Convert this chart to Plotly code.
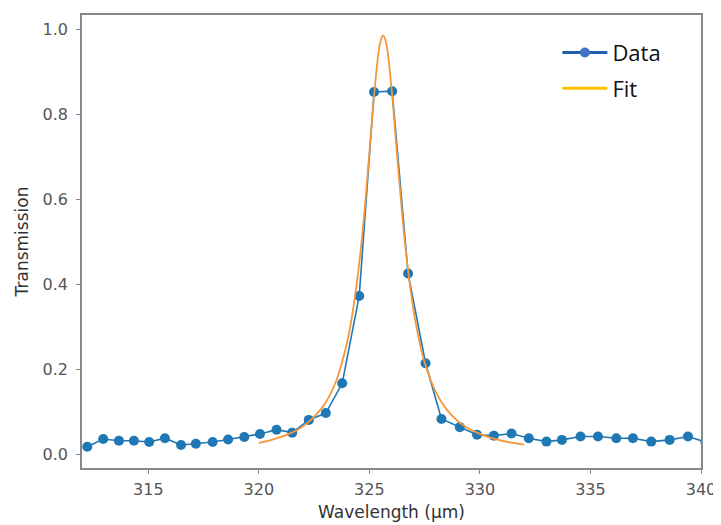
import plotly.graph_objects as go

# Measured data (wavelength in um, transmission)
wavelength = [312.24, 312.96, 313.67, 314.35, 315.04, 315.75, 316.48, 317.15, 317.91,
              318.61, 319.34, 320.05, 320.80, 321.51, 322.26, 323.03, 323.77, 324.54,
              325.21, 326.03, 326.75, 327.54, 328.26, 329.09, 329.87, 330.63, 331.43,
              332.21, 333.01, 333.71, 334.55, 335.34, 336.17, 336.92, 337.75, 338.58,
              339.41, 340.20]
transmission = [0.019, 0.037, 0.033, 0.033, 0.030, 0.039, 0.023, 0.026, 0.030,
                0.036, 0.042, 0.049, 0.059, 0.052, 0.082, 0.098, 0.168, 0.373,
                0.852, 0.854, 0.426, 0.215, 0.084, 0.065, 0.047, 0.045, 0.050,
                0.039, 0.031, 0.035, 0.043, 0.043, 0.039, 0.039, 0.031, 0.035,
                0.043, 0.030]

# Fit curve
fit_x = [320.0, 320.5, 321.0, 321.5, 322.0, 322.5, 323.0, 323.5, 324.0, 324.25,
         324.5, 324.75, 325.0, 325.2, 325.4, 325.5, 325.62, 325.75, 326.0, 326.2,
         326.5, 326.75, 327.0, 327.25, 327.5, 328.0, 328.5, 329.0, 329.5, 330.0,
         330.5, 331.0, 331.5, 332.0]
fit_y = [0.028, 0.034, 0.042, 0.052, 0.067, 0.089, 0.121, 0.174, 0.266, 0.337,
         0.432, 0.556, 0.710, 0.837, 0.940, 0.971, 0.985, 0.969, 0.861, 0.737,
         0.555, 0.433, 0.339, 0.269, 0.217, 0.148, 0.106, 0.079, 0.061, 0.049,
         0.040, 0.033, 0.028, 0.024]

x_ticks = [315, 320, 325, 330, 335, 340]
y_ticks = [0.0, 0.2, 0.4, 0.6, 0.8, 1.0]

fig = go.Figure()
fig.add_trace(go.Scatter(x=wavelength, y=transmission, mode="lines+markers",
                         line=dict(color="#1f77b4", width=1.6),
                         marker=dict(color="#1f77b4", size=10),
                         showlegend=False))
fig.add_trace(go.Scatter(x=fit_x, y=fit_y, mode="lines", line_shape="spline",
                         line=dict(color="#f5973a", width=1.8), showlegend=False))
# legend entries
fig.add_trace(go.Scatter(x=[None], y=[None], mode="lines+markers", name="Data",
                         legendgroup="a",
                         line=dict(color="#1f5fae", width=3),
                         marker=dict(color="#4472c4", size=10)))
fig.add_trace(go.Scatter(x=[None], y=[None], mode="lines", name="Fit",
                         legendgroup="b",
                         line=dict(color="#ffc000", width=3)))

axis_common = dict(showline=True, linecolor="#888888", linewidth=1.5, mirror=True,
                   ticks="outside", ticklen=4, tickcolor="#888888",
                   showgrid=False, zeroline=False, automargin=False,
                   tickfont=dict(family="DejaVu Sans", size=16, color="#555555"))

fig.update_xaxes(range=[312, 340], tickvals=x_ticks, ticklabelstandoff=2,
                 title=dict(text="Wavelength (μm)",
                            font=dict(family="DejaVu Sans", size=17, color="#333333"),
                            standoff=8),
                 **axis_common)
fig.update_yaxes(range=[-0.031, 1.033], tickvals=y_ticks, tickformat=".1f",
                 ticklabelstandoff=5,
                 title=dict(text="Transmission",
                            font=dict(family="DejaVu Sans", size=17, color="#333333"),
                            standoff=10),
                 **axis_common)

# page body has an 8px margin, so the figure sits at (8, 8) in the window
fig.update_layout(
    width=713, height=517,
    margin=dict(l=74, r=20, t=7, b=57),
    paper_bgcolor="white", plot_bgcolor="white",
    legend=dict(x=0.768, y=0.963, xanchor="left", yanchor="top",
                bgcolor="rgba(0,0,0,0)", traceorder="grouped", tracegroupgap=4,
                font=dict(family="Open Sans", size=22, color="#111111"),
                itemwidth=45),
)

fig.write_html("out.html")
